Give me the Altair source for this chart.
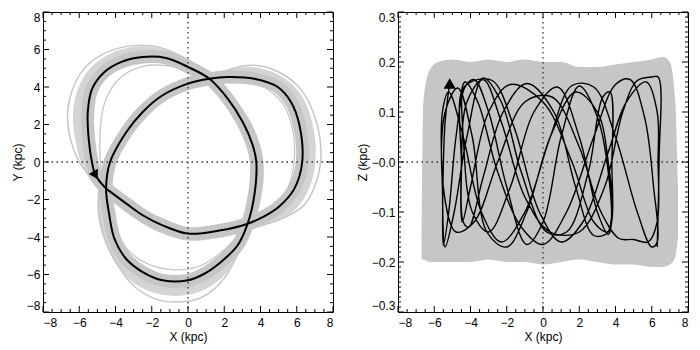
import altair as alt
import pandas as pd

# ---------------- data ----------------
# Left panel: black orbit in the X-Y plane (kpc), one circuit of the rosette
black_x = [-4.52, -5.1, -5.3, -5.48, -5.53, -5.29, -4.61, -3.7, -2.5, -1.21, 0.0, 1.18, 2.19, 3.02, 3.57,
           3.77, 3.66, 3.29, 2.74, 1.82, 0.9, 0.0, -1.4, -2.5, -3.42, -4.06, -4.34, -4.52, -4.3, -3.4,
           -2.5, -1.4, 0.0, 1.18, 2.19, 3.66, 4.95, 5.68, 6.15, 6.3, 5.87, 5.0, 4.2, 3.29, 1.82, 0.0,
           -1.4, -2.5, -3.4, -4.52]
black_y = [-1.42, -0.71, 0.0, 1.24, 2.67, 3.9, 4.8, 5.33, 5.6, 5.55, 5.07, 4.44, 3.38, 2.13, 0.9,
           0.0, -1.78, -3.29, -4.44, -5.33, -5.96, -6.31, -6.31, -5.87, -5.16, -4.09, -2.84, -1.42, 0.0, 1.6,
           2.67, 3.56, 4.18, 4.44, 4.53, 4.44, 4.0, 3.2, 1.96, 0.0, -1.42, -2.4, -2.9, -3.29, -3.64, -3.82,
           -3.38, -2.84, -2.22, -1.42]

# Left panel: outermost grey orbit
outer_x = [-4.7, -5.3, -6.0, -6.55, -6.64, -6.4, -5.8, -4.8, -3.7, -2.68, -1.5, -0.3, 0.9, 2.3, 3.3,
           3.95, 4.1, 3.9, 3.5, 2.8, 2.0, 0.8, -0.5, -1.8, -3.0, -4.0, -4.7, -4.95, -4.8, -4.5, -3.6,
           -2.6, -1.4, 0.0, 1.2, 2.5, 3.66, 5.0, 6.2, 7.0, 7.34, 7.1, 6.4, 5.0, 3.5, 1.8, 0.0, -1.5,
           -2.7, -3.7, -4.7]
outer_y = [-1.6, -0.9, 0.0, 1.5, 2.67, 3.8, 4.9, 5.7, 6.1, 6.22, 6.1, 5.6, 4.8, 3.5, 2.2,
           0.8, -0.5, -2.0, -3.3, -4.8, -6.2, -7.2, -7.47, -7.3, -6.6, -5.3, -3.8, -2.3, -1.2, 0.0, 1.5,
           2.55, 3.45, 4.05, 4.35, 5.0, 5.16, 4.8, 3.9, 2.4, 0.53, -1.0, -2.3, -3.1, -3.5, -3.95, -4.1, -3.7,
           -3.1, -2.4, -1.6]

# Left panel: grey orbit between the black one and the outermost one
mid_x = [-4.6, -5.2, -5.65, -6.0, -6.1, -5.85, -5.2, -4.2, -3.1, -2.0, -0.8, 0.4, 1.2, 2.2, 3.15,
         3.75, 3.95, 3.8, 3.4, 2.7, 1.9, 0.8, -0.5, -1.8, -3.0, -3.9, -4.5, -4.75, -4.7, -4.4, -3.5,
         -2.55, -1.4, 0.0, 1.2, 2.4, 3.7, 4.95, 6.0, 6.6, 6.8, 6.5, 5.7, 4.3, 3.4, 1.8, 0.0, -1.45,
         -2.6, -3.55, -4.6]
mid_y = [-1.5, -0.8, 0.0, 1.4, 2.6, 3.8, 4.85, 5.55, 5.88, 5.9, 5.6, 5.0, 4.45, 3.45, 2.2,
         0.85, -0.3, -1.9, -3.3, -4.6, -5.8, -6.6, -6.9, -6.75, -6.15, -5.1, -3.8, -2.4, -1.3, 0.0, 1.55,
         2.6, 3.5, 4.12, 4.4, 4.75, 4.8, 4.4, 3.5, 2.1, 0.4, -1.2, -2.4, -3.1, -3.4, -3.8, -3.95, -3.55,
         -2.95, -2.3, -1.5]

# Left panel: innermost grey orbit (smaller lobes)
inner_x = [-4.4, -4.75, -4.85, -4.85, -4.7, -4.3, -3.6, -2.5, -1.3, 0.0, 1.18, 2.1, 2.9, 3.45, 3.6,
           3.5, 3.2, 2.5, 1.6, 0.5, -0.8, -2.2, -3.3, -3.95, -4.3, -4.4, -4.15, -3.3, -2.4, -1.35, 0.0,
           1.18, 2.2, 3.5, 4.5, 5.3, 5.8, 5.85, 5.5, 4.7, 3.29, 1.8, 0.0, -1.35, -2.45, -3.35, -4.4]
inner_y = [-1.3, -0.6, 0.3, 1.5, 2.8, 3.8, 4.6, 5.1, 5.15, 4.85, 4.44, 3.35, 2.1, 0.9, 0.0,
           -1.7, -3.2, -4.2, -5.0, -5.6, -5.75, -5.45, -4.7, -3.7, -2.5, -1.3, 0.0, 1.65, 2.72, 3.62, 4.25,
           4.44, 4.45, 4.3, 3.8, 3.0, 1.6, 0.0, -1.4, -2.4, -3.25, -3.58, -3.75, -3.3, -2.78, -2.15, -1.3]

# Right panel: black orbit in the X-Z plane (kpc)
rz_x = [-5.15, -5.4, -5.52, -5.5, -5.2, -4.8, -4.3, -3.8, -3.0, -2.0, -0.9, 0.0, 1.0, 2.0, 3.0, 3.6, 3.75,
        3.6, 3.0, 2.0, 0.8, -0.5, -1.8, -3.0, -3.9, -4.4, -4.45,
        -4.3, -3.6, -2.5, -1.2, 0.0, 1.3, 2.8, 4.0, 4.8, 5.6, 6.1, 6.3,
        6.0, 5.2, 4.0, 2.8, 1.6, 0.4, -1.0, -2.3, -3.4, -4.4, -5.2, -5.55,
        -5.55, -5.4, -4.9, -4.2, -3.3, -2.3, -1.2, 0.2, 1.3, 2.5, 3.3, 3.7,
        3.8, 3.6, 2.8, 1.8, 0.6, -0.9, -2.2, -3.3, -4.1, -4.4, -4.5, -4.5,
        -4.0, -2.8, -1.6, -0.2, 1.0, 2.2, 3.6, 4.6, 5.7, 6.3, 6.35,
        6.3, 5.8, 5.0, 4.2, 3.2, 2.0, 0.5, -1.0, -2.5, -3.8, -4.8, -5.5,
        -5.4, -4.7, -3.9, -3.1, -2.0, -0.9, 0.4, 1.8, 3.0, 3.6, 3.8,
        3.55, 2.8, 1.6, 0.0, -1.8, -3.0, -4.0, -4.45, -4.5,
        -4.2, -3.3, -2.3, -1.0, 0.4, 2.0, 3.4, 4.4, 5.2, 6.0, 6.35, 6.4, 6.3]
rz_z = [0.157, 0.08, -0.05, -0.167, -0.1, 0.05, 0.15, 0.165, 0.1, -0.05, -0.165, -0.12, 0.05, 0.152, 0.09, -0.02, -0.13,
        -0.145, -0.1, 0.05, 0.15, 0.1, -0.05, -0.14, -0.1, 0.05, 0.15,
        0.16, 0.12, -0.02, -0.13, -0.165, -0.1, 0.05, 0.155, 0.165, 0.09, -0.05, -0.16,
        -0.17, -0.1, 0.05, 0.15, 0.153, 0.05, -0.1, -0.16, -0.1, 0.05, 0.14, 0.1,
        -0.05, -0.17, -0.1, 0.05, 0.168, 0.12, -0.02, -0.14, -0.14, -0.02, 0.13, 0.14,
        0.0, -0.14, -0.147, -0.05, 0.1, 0.157, 0.1, -0.03, -0.13, -0.12, 0.0, 0.14,
        0.16, 0.163, 0.07, -0.1, -0.16, -0.12, 0.02, 0.12, 0.16, 0.1, 0.0,
        -0.12, -0.16, -0.155, -0.153, -0.1, 0.03, 0.13, 0.12, 0.0, -0.12, -0.14, -0.05,
        0.1, 0.148, 0.05, -0.14, -0.17, -0.1, 0.05, 0.14, 0.1, 0.0, -0.1,
        -0.14, -0.12, 0.0, 0.12, 0.155, 0.1, -0.05, -0.12, 0.0,
        0.12, 0.165, 0.08, -0.07, -0.14, -0.14, -0.05, 0.1, 0.163, 0.17, 0.17, 0.0, -0.17]

# Right panel: envelope of the grey orbits
env_x = [-6.7, -6.6, -6.3, -5.8, -5.0, -4.0, -3.0, -2.0, -1.0, 0.0, 1.0, 2.0, 3.0, 4.0, 5.0, 6.0, 6.6, 7.0, 7.3, 7.45]
env_top = [-0.17, 0.12, 0.18, 0.2, 0.205, 0.2, 0.205, 0.2, 0.205, 0.2, 0.2, 0.19, 0.19, 0.195, 0.2, 0.205, 0.21, 0.2, 0.12, -0.05]
env_bot = [-0.195, -0.195, -0.2, -0.2, -0.2, -0.2, -0.195, -0.2, -0.2, -0.205, -0.2, -0.195, -0.2, -0.205, -0.205, -0.21, -0.21, -0.205, -0.19, -0.15]

# Start markers
start_left = {"x": [-5.1], "y": [-0.71]}
start_right = {"x": [-5.15], "y": [0.157]}

# Axes
x_ticks = [-8, -6, -4, -2, 0, 2, 4, 6, 8]
x_labels = ["\u22128", "\u22126", "\u22124", "\u22122", "0", "2", "4", "6", "8"]
y_ticks_left = [-8, -6, -4, -2, 0, 2, 4, 6, 8]
y_labels_left = ["\u22128", "\u22126", "\u22124", "\u22122", "0", "2", "4", "6", "8"]
z_ticks = [-0.3, -0.2, -0.1, 0.0, 0.1, 0.2, 0.3]
z_labels = ["\u22120.3", "\u22120.2", "\u22120.1", "\u22120.0", "0.1", "0.2", "0.3"]
x_minor = [m / 2 for m in range(-16, 17) if m % 4 != 0]
y_minor_left = list(x_minor)
z_minor = [k / 100 for k in range(-30, 31) if k % 10 != 0]

# ---------------- chart ----------------
W, H = 290, 300
GREY = "#c6c6c6"
FONT = "Liberation Sans"


def label_expr(vals, labels):
    expr = "''"
    for v, s in reversed(list(zip(vals, labels))):
        expr = f"abs(datum.value - ({float(v)})) < 1e-6 ? '{s}' : ({expr})"
    return expr


def path_df(xs, ys):
    return pd.DataFrame({"x": xs, "y": ys, "i": list(range(len(xs)))})


XS = alt.Scale(domain=[-8, 8], nice=False, zero=False)
YL = alt.Scale(domain=[-8, 8], nice=False, zero=False)
ZS = alt.Scale(domain=[-0.3, 0.3], nice=False, zero=False)

XA = alt.Axis(values=x_ticks, labelExpr=label_expr(x_ticks, x_labels), ticks=False, domain=False,
              grid=False, title="X (kpc)", labelPadding=5, titlePadding=3)
YA = alt.Axis(values=y_ticks_left, labelExpr=label_expr(y_ticks_left, y_labels_left), ticks=False,
              domain=False, grid=False, title="Y (kpc)", labelFlush=True, labelPadding=3, titlePadding=2)
ZA = alt.Axis(values=z_ticks, labelExpr=label_expr(z_ticks, z_labels), ticks=False, domain=False,
              grid=False, title="Z (kpc)", labelFlush=True, labelPadding=3, titlePadding=2)


def build_panel(yscale, yaxis, ymaj, ymin, under, black_df, black_w, start, tri_shape, tri_size, tri_angle):
    def X(f):
        return alt.X(f, scale=XS, axis=XA)

    def Y(f):
        return alt.Y(f, scale=yscale, axis=yaxis)

    layers = list(under(X, Y))
    zero = pd.DataFrame({"v": [0.0]})
    dot = dict(color="#333333", strokeDash=[1.5, 3.5], strokeWidth=1.3)
    layers.append(alt.Chart(zero).mark_rule(**dot).encode(x=X("v:Q")))
    layers.append(alt.Chart(zero).mark_rule(**dot).encode(y=Y("v:Q")))
    layers.append(alt.Chart(black_df).mark_line(color="black", strokeWidth=black_w, interpolate="catmull-rom",
                                                clip=True, strokeJoin="round").encode(
        x=X("x:Q"), y=Y("y:Q"), order="i:Q"))
    layers.append(alt.Chart(pd.DataFrame(start)).mark_point(shape=tri_shape, filled=True, color="black",
                                                            opacity=1, size=tri_size, angle=tri_angle).encode(
        x=X("x:Q"), y=Y("y:Q")))
    # inward ticks on all four sides
    for vals, L in [(x_ticks, 6), (x_minor, 3)]:
        d = pd.DataFrame({"v": [float(v) for v in vals]})
        b = alt.Chart(d).mark_rule(color="black", strokeWidth=1)
        layers.append(b.encode(x=X("v:Q"), y=alt.value(H), y2=alt.value(H - L)))
        layers.append(b.encode(x=X("v:Q"), y=alt.value(0), y2=alt.value(L)))
    for vals, L in [(ymaj, 6), (ymin, 3)]:
        d = pd.DataFrame({"v": [float(v) for v in vals]})
        b = alt.Chart(d).mark_rule(color="black", strokeWidth=1)
        layers.append(b.encode(y=Y("v:Q"), x=alt.value(0), x2=alt.value(L)))
        layers.append(b.encode(y=Y("v:Q"), x=alt.value(W), x2=alt.value(W - L)))
    return alt.layer(*layers).properties(width=W, height=H)


def left_under(X, Y):
    out = []
    for xs, ys, w, op in [(black_x, black_y, 13, 1.0), (inner_x, inner_y, 1.3, 1.0),
                          (mid_x, mid_y, 9, 0.75), (outer_x, outer_y, 1.5, 1.0)]:
        out.append(alt.Chart(path_df(xs, ys)).mark_line(color=GREY, strokeWidth=w, opacity=op,
                                                        interpolate="catmull-rom",
                                                        clip=True, strokeJoin="round").encode(
            x=X("x:Q"), y=Y("y:Q"), order="i:Q"))
    return out


def right_under(X, Y):
    env_df = pd.DataFrame({"x": env_x, "top": env_top, "bot": env_bot})
    return [alt.Chart(env_df).mark_area(color=GREY, interpolate="monotone", clip=True).encode(
        x=X("x:Q"), y=Y("top:Q"), y2="bot:Q")]


left = build_panel(YL, YA, y_ticks_left, y_minor_left, left_under, path_df(black_x, black_y), 2.0,
                   start_left, "triangle-down", 110, 330)
right = build_panel(ZS, ZA, z_ticks, z_minor, right_under, path_df(rz_x, rz_z), 1.4,
                    start_right, "triangle-up", 150, 0)

chart = alt.hconcat(left, right, spacing=20).configure_view(
    stroke="black", strokeWidth=1
).configure_axis(
    labelFont=FONT, labelFontSize=12, titleFont=FONT, titleFontSize=12, titleFontWeight="normal",
    labelColor="black", titleColor="black"
).properties(padding={"left": 2, "top": 2, "right": 2, "bottom": 2})

chart.save("out.html", embed_options={"renderer": "svg", "actions": False})
